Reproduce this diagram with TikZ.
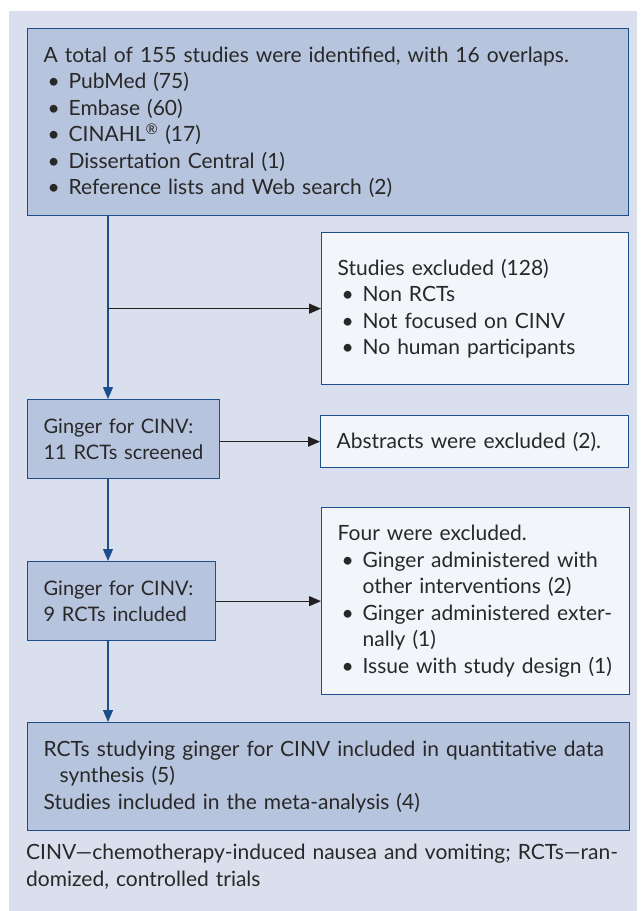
\documentclass[tikz,border=0pt]{standalone}
\usepackage{fontspec}
\setmainfont{Lato}
\usetikzlibrary{arrows.meta}
\definecolor{panel}{RGB}{217,223,236}
\definecolor{darkfill}{RGB}{183,196,221}
\definecolor{lightfill}{RGB}{242,245,250}
\definecolor{edge}{RGB}{28,78,140}
\definecolor{txt}{RGB}{40,40,40}
\definecolor{harr}{RGB}{35,31,32}
\newcommand\bitem{\makebox[25pt][l]{\hspace{4pt}\textbullet}}
\newcommand\hangsp{\hspace*{25pt}}
\begin{document}
\begin{tikzpicture}[x=1pt,y=-1pt,
  box/.style={draw=edge, line width=1.3pt, rectangle, anchor=north west, inner xsep=16pt, inner ysep=0pt, align=left, text=txt, font=\fontsize{21}{26.5}\selectfont},
  darkbox/.style={box, fill=darkfill},
  lightbox/.style={box, fill=lightfill},
  smallbox/.style={darkbox, font=\fontsize{20}{26.5}\selectfont},
  varrow/.style={draw=edge, line width=1.3pt, -{Triangle[length=12pt,width=10pt]}},
  harrow/.style={draw=harr, line width=1.3pt, -{Triangle[length=12pt,width=10pt]}}]
\useasboundingbox (0,0) rectangle (641,911);
\fill[panel] (9,11) rectangle (637,911);
\node[darkbox, text width=569pt, minimum height=187pt] (b1) at (27,28) {A total of 155 studies were identified, with 16 overlaps.\\
\bitem PubMed (75)\\
\bitem Embase (60)\\
\bitem CINAHL\textsuperscript{®} (17)\\
\bitem Dissertation Central (1)\\
\bitem Reference lists and Web search (2)};
\node[lightbox, text width=275pt, minimum height=152pt] (ex1) at (321,232) {Studies excluded (128)\\
\bitem Non RCTs\\
\bitem Not focused on CINV\\
\bitem No human participants};
\node[smallbox, text width=160pt, minimum height=79pt] (g1) at (27,399) {\mbox{Ginger for CINV:}\\\mbox{11 RCTs screened}};
\node[lightbox, text width=276pt, minimum height=52pt] (ex2) at (320,415) {Abstracts were excluded (2).};
\node[smallbox, text width=156pt, minimum height=79pt] (g2) at (27,561) {\mbox{Ginger for CINV:}\\\mbox{9 RCTs included}};
\node[lightbox, text width=276pt, minimum height=187pt] (ex3) at (321,507) {Four were excluded.\\
\bitem Ginger administered with\\
\hangsp other interventions (2)\\
\bitem Ginger administered exter-\\
\hangsp nally (1)\\
\bitem Issue with study design (1)};
\node[darkbox, text width=570pt, minimum height=108pt] (fin) at (27,722) {RCTs studying ginger for CINV included in quantitative data\\
\hspace*{16pt}synthesis (5)\\
Studies included in the meta-analysis (4)};
\node[anchor=north west, inner sep=0pt, align=left, text=txt, text width=610pt, font=\fontsize{21}{27}\selectfont] (cap) at (26,844) {CINV---chemotherapy-induced nausea and vomiting; RCTs---ran-\\
domized, controlled trials};
\coordinate (vx) at (108,0);
\draw[varrow] (b1.south -| vx) -- (g1.north -| vx);
\draw[harrow] (vx |- ex1.west) -- (ex1.west);
\draw[harrow] (g1.east |- ex2.west) -- (ex2.west);
\draw[varrow] (g1.south -| vx) -- (g2.north -| vx);
\draw[harrow] (g2.east) -- (g2.east -| ex3.west);
\draw[varrow] (g2.south -| vx) -- (fin.north -| vx);
\end{tikzpicture}
\end{document}
